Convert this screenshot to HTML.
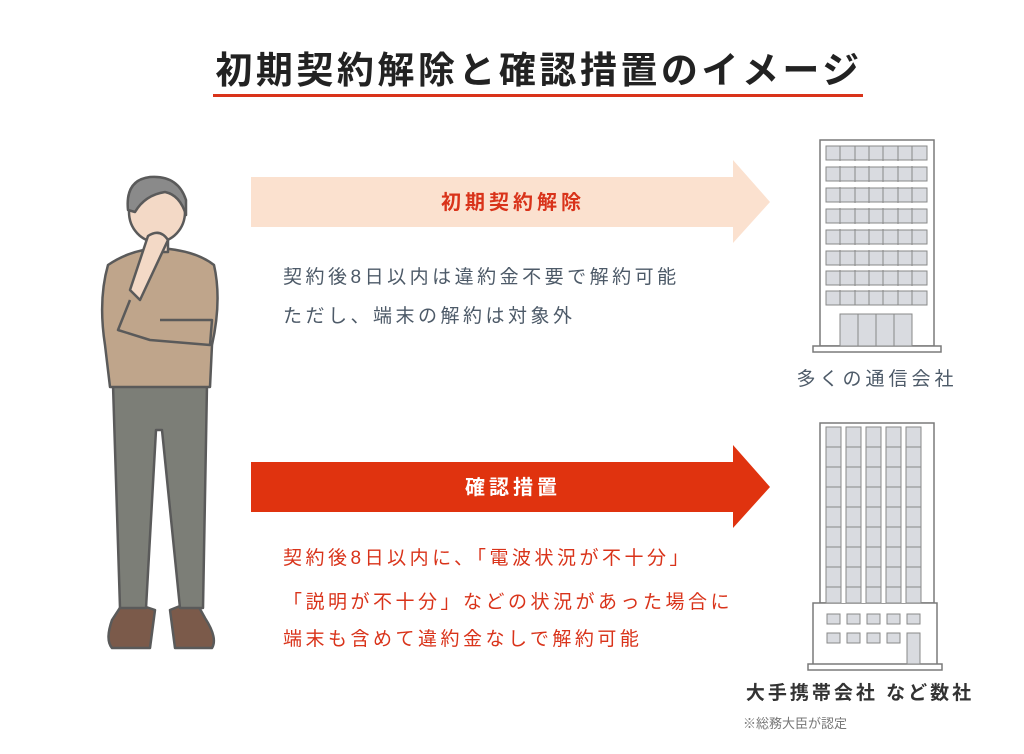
<!DOCTYPE html>
<html><head><meta charset="utf-8"><style>
html,body{margin:0;padding:0;background:#fff}
svg{display:block}
text{font-family:"Liberation Sans","Noto Sans CJK JP",sans-serif}
</style></head><body>
<svg width="1024" height="754" viewBox="0 0 1024 754" xmlns="http://www.w3.org/2000/svg">
<rect width="1024" height="754" fill="#fff"/>
<text x="539" y="83" text-anchor="middle" font-size="37" font-weight="bold" fill="#222" letter-spacing="3.5">初期契約解除と確認措置のイメージ</text>
<rect x="213" y="94" width="650" height="3" fill="#d9331a"/>

<!-- arrows -->
<polygon points="251,177 733,177 733,160 770,202 733,243 733,227 251,227" fill="#fbe1cf"/>
<text x="513" y="209" text-anchor="middle" font-size="20" font-weight="bold" fill="#d9331a" letter-spacing="4">初期契約解除</text>
<polygon points="251,462 733,462 733,445 770,487 733,528 733,512 251,512" fill="#e0330f"/>
<text x="513" y="494" text-anchor="middle" font-size="20" font-weight="bold" fill="#fff" letter-spacing="4">確認措置</text>

<g font-size="19" fill="#4d5a68" letter-spacing="3.5">
<text x="283" y="283">契約後8日以内は違約金不要で解約可能</text>
<text x="283" y="322">ただし、端末の解約は対象外</text>
</g>
<g font-size="19" fill="#d9331a" letter-spacing="3.5">
<text x="283" y="564">契約後8日以内に、「電波状況が不十分」</text>
<text x="283" y="608">「説明が不十分」などの状況があった場合に</text>
<text x="283" y="645">端末も含めて違約金なしで解約可能</text>
</g>

<!-- building 1 -->
<g stroke="#7a7a7a" stroke-width="1.5" fill="#fff">
<rect x="820" y="140" width="114" height="206"/>
<rect x="813" y="346" width="128" height="6"/>
</g>
<g stroke="#888" stroke-width="1" fill="#d9dbe0">
<rect x="826" y="146" width="101" height="14"/><rect x="826" y="167" width="101" height="14"/>
<rect x="826" y="188" width="101" height="14"/><rect x="826" y="209" width="101" height="14"/>
<rect x="826" y="230" width="101" height="14"/><rect x="826" y="251" width="101" height="14"/>
<rect x="826" y="271" width="101" height="14"/><rect x="826" y="291" width="101" height="14"/>
<rect x="840" y="314" width="72" height="32"/>
</g>
<g stroke="#888" stroke-width="1">
<line x1="840" y1="146" x2="840" y2="305"/><line x1="855" y1="146" x2="855" y2="305"/>
<line x1="869" y1="146" x2="869" y2="305"/><line x1="883" y1="146" x2="883" y2="305"/>
<line x1="898" y1="146" x2="898" y2="305"/><line x1="912" y1="146" x2="912" y2="305"/>
</g>
<g fill="#fff"><rect x="821" y="161" width="112" height="5"/><rect x="821" y="182" width="112" height="5"/><rect x="821" y="203" width="112" height="5"/><rect x="821" y="224" width="112" height="5"/><rect x="821" y="245" width="112" height="5"/><rect x="821" y="266" width="112" height="4"/><rect x="821" y="286" width="112" height="4"/><rect x="821" y="306" width="112" height="7"/></g>
<g stroke="#888" fill="none"><line x1="858" y1="314" x2="858" y2="346"/><line x1="876" y1="314" x2="876" y2="346"/><line x1="894" y1="314" x2="894" y2="346"/></g>
<text x="877" y="385" text-anchor="middle" font-size="19" fill="#4d5a68" letter-spacing="4">多くの通信会社</text>

<!-- building 2 -->
<g stroke="#7a7a7a" stroke-width="1.5" fill="#fff">
<rect x="820" y="423" width="114" height="180"/>
<rect x="813" y="603" width="124" height="62"/>
<rect x="808" y="664" width="134" height="6"/>
</g>
<g stroke="#888" stroke-width="1" fill="#d9dbe0">
<rect x="826" y="427" width="15" height="176"/><rect x="846" y="427" width="15" height="176"/>
<rect x="866" y="427" width="15" height="176"/><rect x="886" y="427" width="15" height="176"/>
<rect x="906" y="427" width="15" height="176"/>
<rect x="827" y="614" width="13" height="10"/><rect x="847" y="614" width="13" height="10"/><rect x="867" y="614" width="13" height="10"/><rect x="887" y="614" width="13" height="10"/><rect x="907" y="614" width="13" height="10"/>
<rect x="827" y="633" width="13" height="10"/><rect x="847" y="633" width="13" height="10"/><rect x="867" y="633" width="13" height="10"/><rect x="887" y="633" width="13" height="10"/>
<rect x="907" y="633" width="13" height="31"/>
</g>
<g stroke="#888" stroke-width="1">
<line x1="826" y1="447" x2="921" y2="447"/><line x1="826" y1="467" x2="921" y2="467"/><line x1="826" y1="487" x2="921" y2="487"/><line x1="826" y1="507" x2="921" y2="507"/><line x1="826" y1="527" x2="921" y2="527"/><line x1="826" y1="547" x2="921" y2="547"/><line x1="826" y1="567" x2="921" y2="567"/><line x1="826" y1="587" x2="921" y2="587"/>
</g>
<g fill="#fff"><rect x="841.5" y="427" width="4" height="176"/><rect x="861.5" y="427" width="4" height="176"/><rect x="881.5" y="427" width="4" height="176"/><rect x="901.5" y="427" width="4" height="176"/></g>
<text x="860" y="699" text-anchor="middle" font-size="19" font-weight="bold" fill="#333" letter-spacing="3">大手携帯会社 など数社</text>
<text x="743" y="728" font-size="13" fill="#777">※総務大臣が認定</text>

<!-- person -->
<g stroke="#5a5a5a" stroke-width="2.5" stroke-linejoin="round">
<path d="M125,600 L112,620 Q105,640 112,648 L150,648 L155,610 Z" fill="#7b5a4a"/>
<path d="M170,610 L175,648 L212,648 Q218,638 205,618 L195,600 Z" fill="#7b5a4a"/>
<path d="M113,385 L207,385 L203,608 L180,608 L162,430 L156,430 L146,608 L120,608 Z" fill="#7c7e77"/>
<path d="M108,265 Q130,250 158,248 Q195,250 214,265 Q222,300 212,345 L210,387 L110,387 L105,345 Q98,300 108,265 Z" fill="#bfa58b"/>
<path d="M130,300 L118,330 L150,340 L210,345 L212,320 L160,320" fill="#bfa58b"/>
<rect x="150" y="230" width="18" height="22" fill="#f3d9c6"/>
<ellipse cx="157" cy="212" rx="28" ry="30" fill="#f3d9c6"/>
<path d="M128,210 Q125,180 150,177 Q178,175 186,200 L186,215 Q180,195 165,192 Q145,195 135,212 Z" fill="#8a8a8a"/>
<path d="M148,236 Q160,228 168,240 L140,300 L130,290 Z" fill="#f3d9c6"/>
</g>
</svg>
</body></html>
